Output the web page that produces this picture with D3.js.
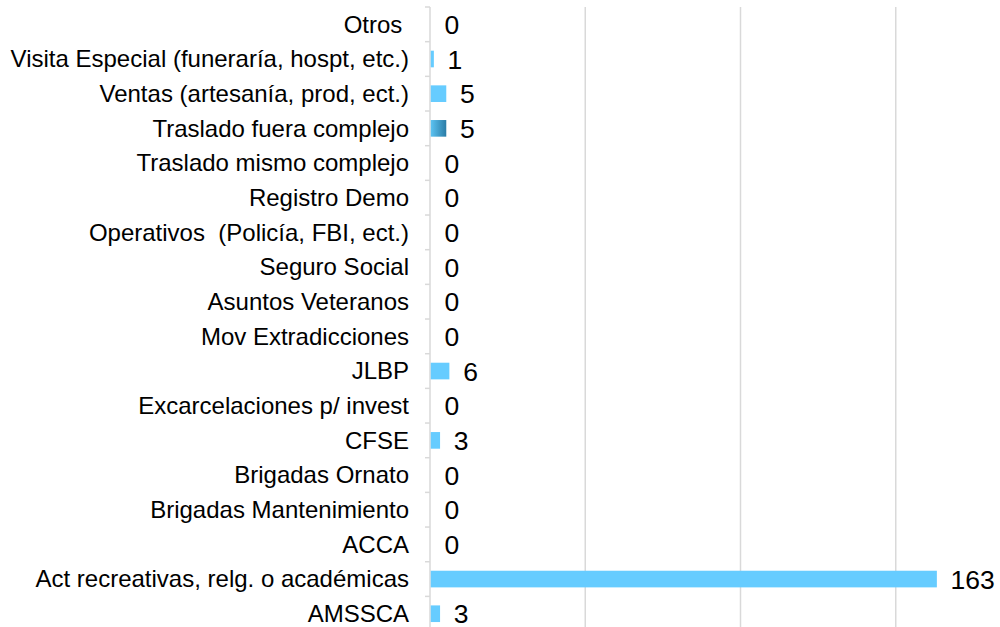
<!DOCTYPE html>
<html>
<head>
<meta charset="utf-8">
<script src="https://cdn.jsdelivr.net/npm/d3@7"></script>
<style>
  html, body { margin: 0; padding: 0; background: #fff; }
  svg { display: block; }
  text { font-family: "Liberation Sans", Arial, sans-serif; fill: #000; }
</style>
</head>
<body>
<svg id="chart" width="1000" height="627"></svg>
<script>
// Categories, top to bottom
const categories = [
  "Otros ",
  "Visita Especial (funeraría, hospt, etc.)",
  "Ventas (artesanía, prod, ect.)",
  "Traslado fuera complejo",
  "Traslado mismo complejo",
  "Registro Demo",
  "Operativos  (Policía, FBI, ect.)",
  "Seguro Social",
  "Asuntos Veteranos",
  "Mov Extradicciones",
  "JLBP",
  "Excarcelaciones p/ invest",
  "CFSE",
  "Brigadas Ornato",
  "Brigadas Mantenimiento",
  "ACCA",
  "Act recreativas, relg. o académicas",
  "AMSSCA"
];
const values = [0, 1, 5, 5, 0, 0, 0, 0, 0, 0, 6, 0, 3, 0, 0, 0, 163, 3];
const gridTicks = [0, 50, 100, 150, 200];

const svg = d3.select("#chart");
const plotLeft = 430, plotTop = 7, bandH = 34.67;

const x = d3.scaleLinear().domain([0, 200]).range([plotLeft, plotLeft + 621]);
const y = d3.scaleBand()
  .domain(categories)
  .range([plotTop, plotTop + bandH * categories.length])
  .paddingInner(0.52).paddingOuter(0.26);

// gradient used by the "Traslado fuera complejo" bar
const defs = svg.append("defs");
const grad = defs.append("linearGradient").attr("id", "shade")
  .attr("x1", "0%").attr("x2", "100%").attr("y1", "0%").attr("y2", "0%");
grad.append("stop").attr("offset", "0%").attr("stop-color", "#5cc3f2");
grad.append("stop").attr("offset", "100%").attr("stop-color", "#2a7ca6");

// vertical gridlines
svg.append("g").selectAll("line")
  .data(gridTicks.slice(1))
  .join("line")
  .attr("x1", d => x(d)).attr("x2", d => x(d))
  .attr("y1", plotTop).attr("y2", 640)
  .attr("stroke", "#d9d9d9").attr("stroke-width", 1.5);

// category axis with ticks on band boundaries
const axisG = svg.append("g");
axisG.append("line")
  .attr("x1", plotLeft).attr("x2", plotLeft)
  .attr("y1", plotTop).attr("y2", 640)
  .attr("stroke", "#d9d9d9").attr("stroke-width", 1.5);
axisG.selectAll("line.tick")
  .data(d3.range(categories.length + 1))
  .join("line").attr("class", "tick")
  .attr("x1", plotLeft - 5).attr("x2", plotLeft)
  .attr("y1", i => plotTop + i * bandH).attr("y2", i => plotTop + i * bandH)
  .attr("stroke", "#d9d9d9").attr("stroke-width", 1.5);

// category labels
svg.append("g").selectAll("text")
  .data(categories)
  .join("text")
  .attr("x", 409)
  .attr("y", d => y(d) + y.bandwidth() / 2 + 8.3)
  .attr("text-anchor", "end")
  .style("white-space", "pre")
  .attr("font-size", "24px")
  .text(d => d);

// bars
svg.append("g").selectAll("rect")
  .data(categories)
  .join("rect")
  .attr("x", x(0) + 0.75)
  .attr("y", d => y(d))
  .attr("height", y.bandwidth())
  .attr("width", (d, i) => Math.max(0, x(values[i]) - x(0)))
  .attr("fill", d => d === "Traslado fuera complejo" ? "url(#shade)" : "#66ccff");

// value labels
svg.append("g").selectAll("text")
  .data(categories)
  .join("text")
  .attr("x", (d, i) => x(values[i]) + 14.5)
  .attr("y", d => y(d) + y.bandwidth() / 2 + 9.5)
  .attr("font-size", "26.5px")
  .text((d, i) => values[i]);
</script>
</body>
</html>
